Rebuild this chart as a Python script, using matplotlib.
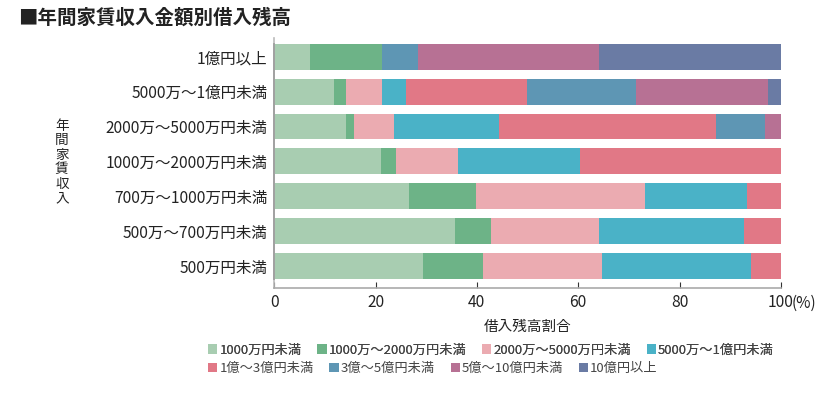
import matplotlib
matplotlib.use("Agg")
import matplotlib.pyplot as plt
from matplotlib.patches import Patch

plt.rcParams['font.family'] = ['Noto Sans CJK JP', 'DejaVu Sans']

# rows, top to bottom
incomes = ["1億円以上", "5000万～1億円未満", "2000万～5000万円未満", "1000万～2000万円未満",
           "700万～1000万円未満", "500万～700万円未満", "500万円未満"]

# share (%) of each loan-balance class, one value per row
lt_10m = [7.1, 11.8, 14.2, 21.1, 26.6, 35.7, 29.4]
m10_20 = [14.2, 2.4, 1.6, 2.9, 13.3, 7.1, 11.9]
m20_50 = [0, 7.1, 7.8, 12.3, 33.3, 21.4, 23.5]
m50_100 = [0, 4.7, 20.8, 24.1, 20.2, 28.6, 29.4]
o1_3 = [0, 23.9, 42.8, 39.6, 6.6, 7.2, 5.8]
o3_5 = [7.1, 21.5, 9.6, 0, 0, 0, 0]
o5_10 = [35.8, 26.1, 3.2, 0, 0, 0, 0]
o10_up = [35.8, 2.5, 0, 0, 0, 0, 0]

series = [lt_10m, m10_20, m20_50, m50_100, o1_3, o3_5, o5_10, o10_up]
series_names = ["1000万円未満", "1000万～2000万円未満", "2000万～5000万円未満", "5000万～1億円未満",
                "1億～3億円未満", "3億～5億円未満", "5億～10億円未満", "10億円以上"]
colors = ["#a8cdb1", "#6db387", "#ebabb1", "#4ab2c7",
          "#e17886", "#5e96b4", "#b77194", "#6a7ba4"]

fig = plt.figure(figsize=(8.36, 3.95), dpi=100)
ax = fig.add_axes([0.328, 0.271, 0.606, 0.633])

ypos = list(range(len(incomes)))
left = [0.0] * len(incomes)
for vals, col in zip(series, colors):
    ax.barh(ypos, vals, left=left, height=0.74, color=col, linewidth=0)
    left = [a + b for a, b in zip(left, vals)]

ax.set_xlim(0, 100)
ax.set_ylim(6.63, -0.54)
ax.set_yticks(ypos)
ax.set_yticklabels(incomes, fontsize=11.2, color="#222222")
ax.set_xticks([0, 20, 40, 60, 80, 100])
ax.set_xticklabels(["0", "20", "40", "60", "80", "100"], fontsize=11.2, color="#222222")
ax.annotate("(%)", xy=(1.0, 0), xycoords="axes fraction", xytext=(7.5, -5),
            textcoords="offset points", ha="left", va="top", fontsize=11.2, color="#222222")
ax.tick_params(axis="y", length=0, pad=5)
ax.tick_params(axis="x", direction="in", length=4, color="#333333", pad=4)

for s in ["top", "right"]:
    ax.spines[s].set_visible(False)
ax.spines["left"].set_color("#bbbbbb")
ax.spines["left"].set_linewidth(1.2)
ax.spines["bottom"].set_color("#aaaaaa")
ax.spines["bottom"].set_linewidth(1.2)
# dark part of the left axis line beside the bars
ax.plot([0, 0], [-0.37, 6.37], color="#111111", linewidth=1.3, clip_on=False)

ax.set_xlabel("借入残高割合", fontsize=10.5, color="#222222", labelpad=7)
fig.text(0.074, 0.59, "\n".join("年間家賃収入"), ha="center", va="center",
         fontsize=9.8, color="#222222", linespacing=1.05)

fig.text(0.022, 0.955, "■年間家賃収入金額別借入残高", fontsize=14, fontweight="bold",
         color="#222222", ha="left", va="center")

handles = [Patch(facecolor=c, edgecolor="none") for c in colors]
leg_kw = dict(ncol=4, frameon=False, fontsize=9.5, handlelength=0.7, handleheight=0.7,
              handletextpad=0.15, columnspacing=1.2, borderaxespad=0, borderpad=0,
              labelcolor="#444444")
leg1 = fig.legend(handles[:4], series_names[:4], loc="upper left",
                  bbox_to_anchor=(0.249, 0.13), **leg_kw)
fig.add_artist(leg1)
fig.legend(handles[4:], series_names[4:], loc="upper left",
           bbox_to_anchor=(0.249, 0.084), **leg_kw)

fig.savefig("out.png", dpi=100)
